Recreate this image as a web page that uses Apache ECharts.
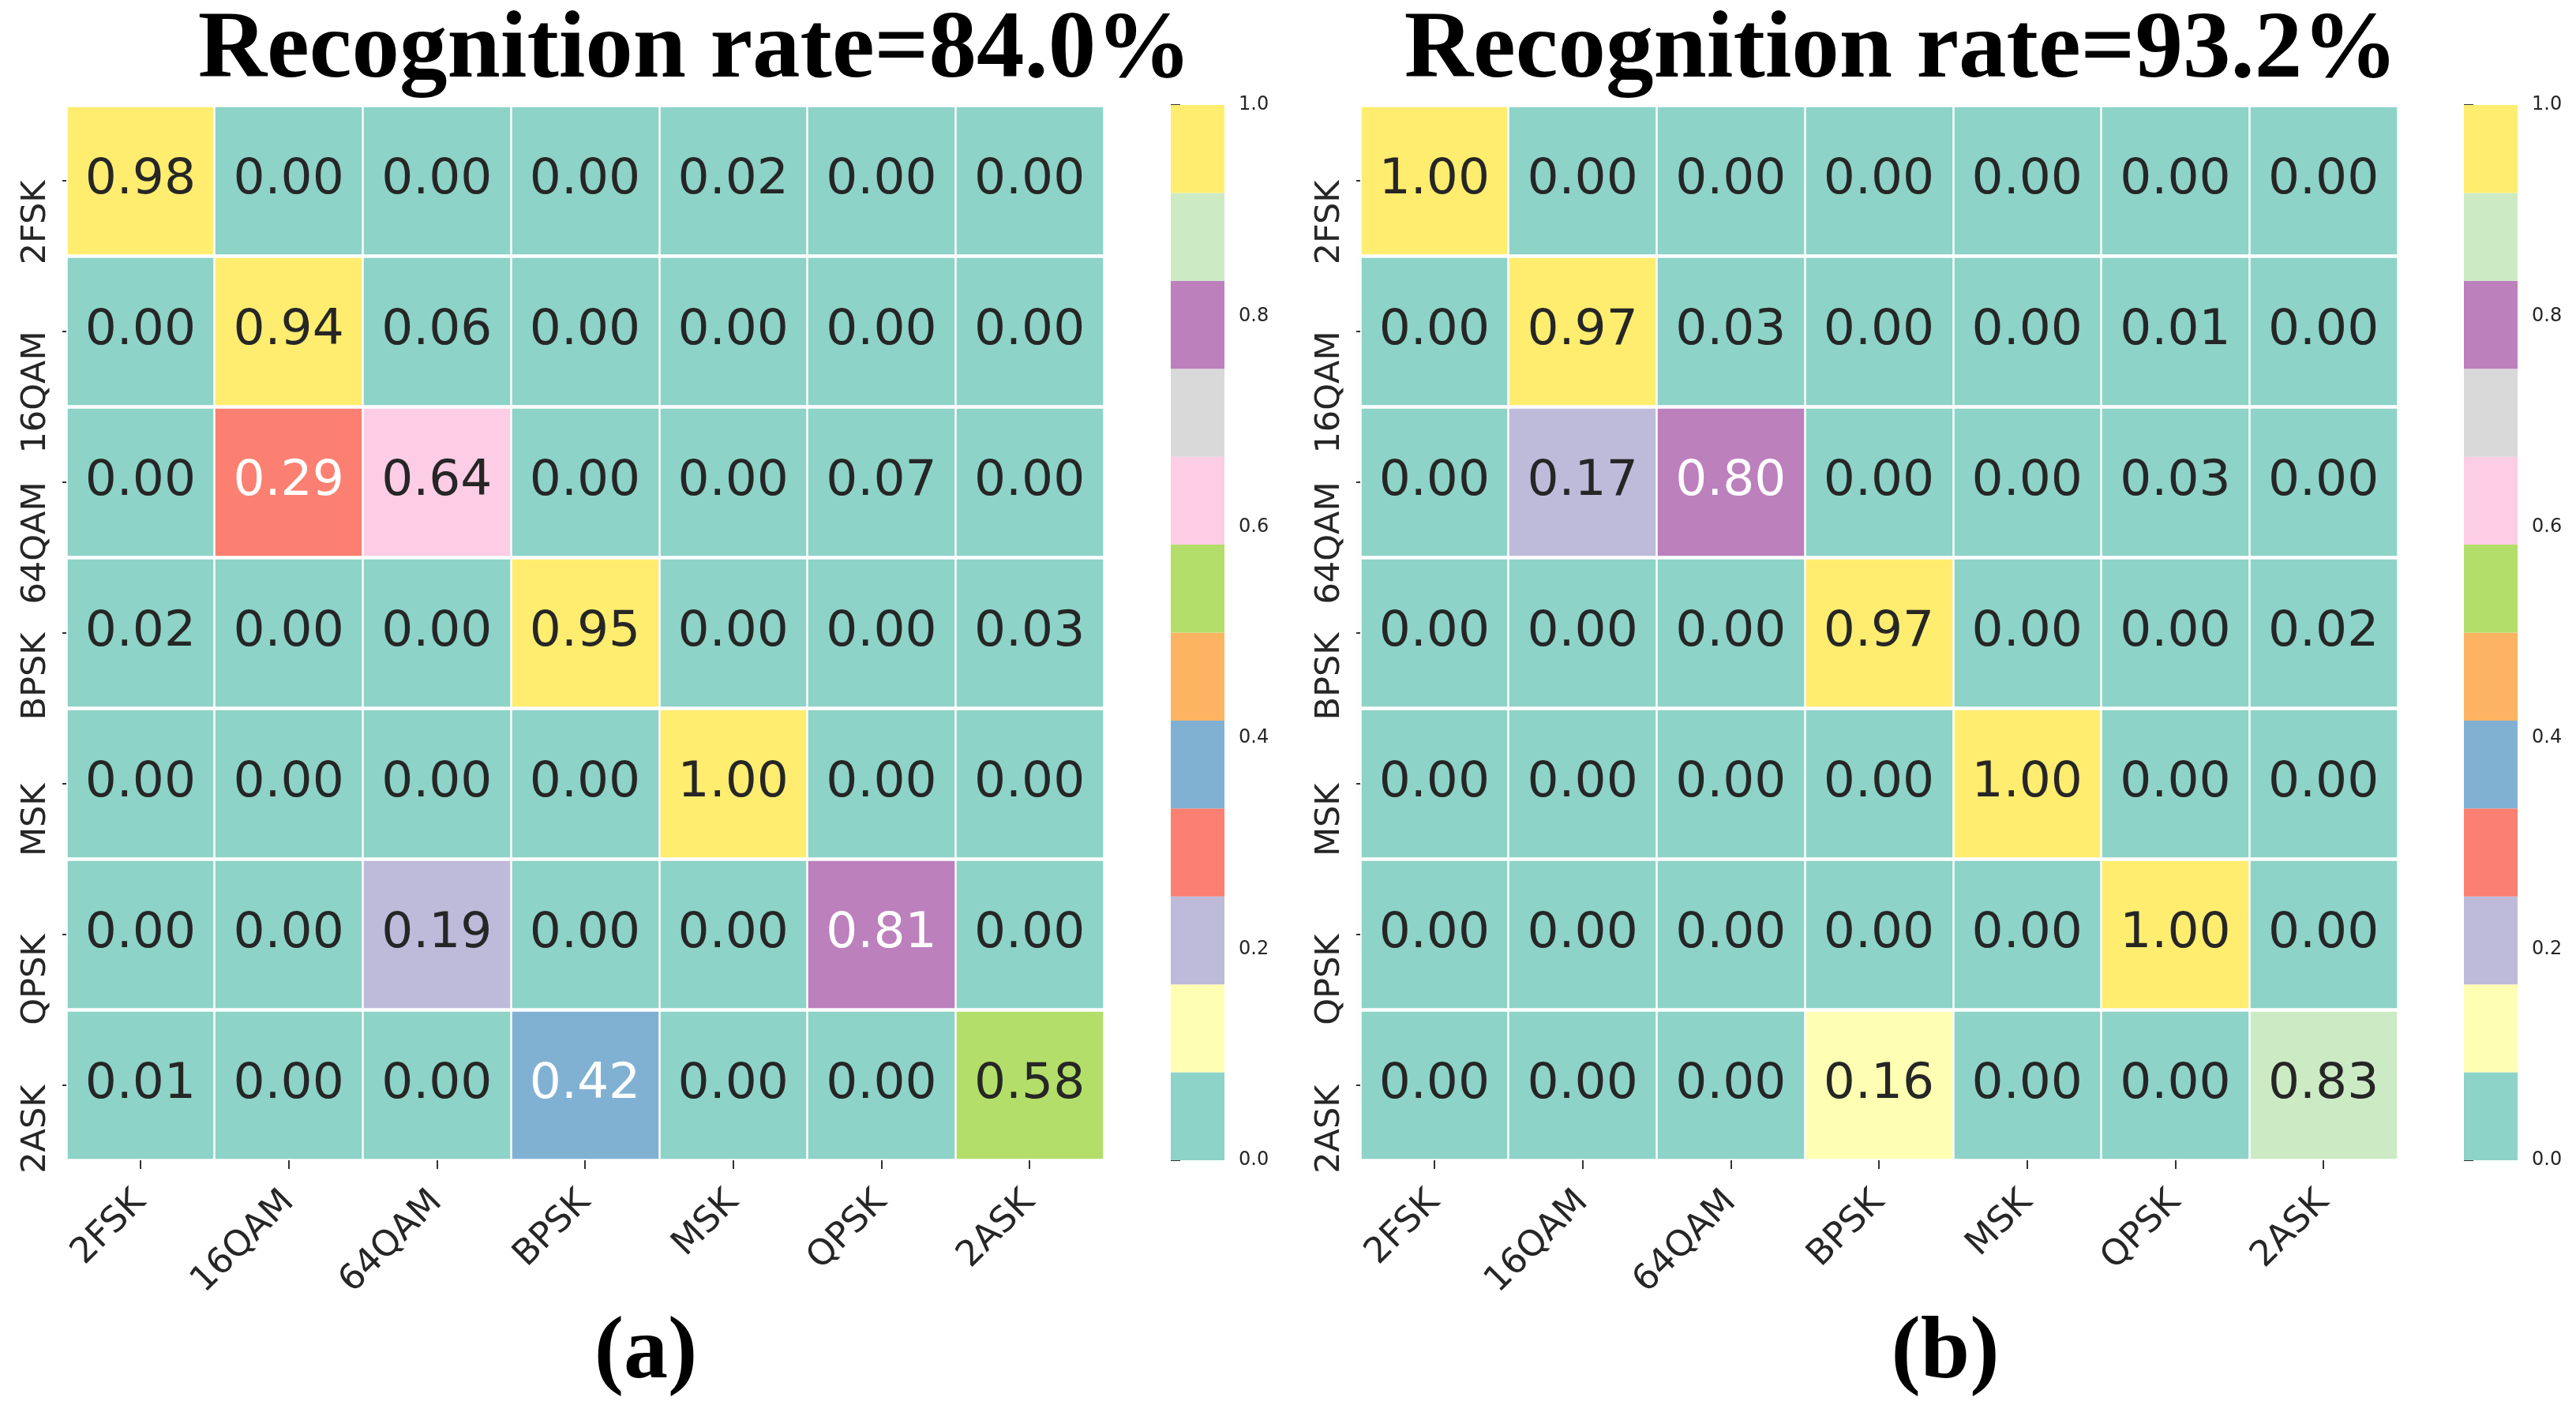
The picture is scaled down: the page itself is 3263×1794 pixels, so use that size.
<!DOCTYPE html>
<html>
<head>
<meta charset="utf-8">
<script src="https://cdn.jsdelivr.net/npm/echarts@6/dist/echarts.min.js"></script>
<style>
html,body{margin:0;padding:0;background:#fff;}
#chart{width:3263px;height:1794px;}
</style>
</head>
<body>
<div id="chart"></div>
<script>
// ---- data ----
const categories = ['2FSK','16QAM','64QAM','BPSK','MSK','QPSK','2ASK'];
const matrixA = [
  [0.98, 0.00, 0.00, 0.00, 0.02, 0.00, 0.00],
  [0.00, 0.94, 0.06, 0.00, 0.00, 0.00, 0.00],
  [0.00, 0.29, 0.64, 0.00, 0.00, 0.07, 0.00],
  [0.02, 0.00, 0.00, 0.95, 0.00, 0.00, 0.03],
  [0.00, 0.00, 0.00, 0.00, 1.00, 0.00, 0.00],
  [0.00, 0.00, 0.19, 0.00, 0.00, 0.81, 0.00],
  [0.01, 0.00, 0.00, 0.416, 0.00, 0.00, 0.58]
];
const matrixB = [
  [1.00, 0.00, 0.00, 0.00, 0.00, 0.00, 0.00],
  [0.00, 0.97, 0.03, 0.00, 0.00, 0.01, 0.00],
  [0.00, 0.17, 0.80, 0.00, 0.00, 0.03, 0.00],
  [0.00, 0.00, 0.00, 0.97, 0.00, 0.00, 0.02],
  [0.00, 0.00, 0.00, 0.00, 1.00, 0.00, 0.00],
  [0.00, 0.00, 0.00, 0.00, 0.00, 1.00, 0.00],
  [0.00, 0.00, 0.00, 0.16, 0.00, 0.00, 0.834]
];
const titleA = 'Recognition rate=84.0%';
const titleB = 'Recognition rate=93.2%';
const panelLabels = ['(a)', '(b)'];
const colorbarTicks = [0.0, 0.2, 0.4, 0.6, 0.8, 1.0];
// Set3 colormap (12 discrete levels over [0,1])
const set3 = ['#8dd3c7','#ffffb3','#bebada','#fb8072','#80b1d3','#fdb462',
              '#b3de69','#fccde5','#d9d9d9','#bc80bd','#ccebc5','#ffed6f'];

// ---- helpers ----
const nLev = set3.length;
function levelColor(v){
  let i = Math.floor(v * nLev);
  if (i >= nLev) i = nLev - 1;
  if (i < 0) i = 0;
  return set3[i];
}
function lum(hex){
  const c = [1,3,5].map(k => parseInt(hex.substr(k,2),16)/255)
    .map(x => x <= 0.03928 ? x/12.92 : Math.pow((x+0.055)/1.055, 2.4));
  return 0.2126*c[0] + 0.7152*c[1] + 0.0722*c[2];
}
function heatData(m){
  const out = [];
  m.forEach((row, r) => row.forEach((v, c) => {
    const col = levelColor(v);
    out.push({ value: [c, r, v], label: { color: lum(col) > 0.409 ? '#262626' : '#ffffff' } });
  }));
  return out;
}
const pieces = set3.map((col, i) => {
  const p = { gte: i / nLev, color: col };
  if (i < nLev - 1) p.lt = (i + 1) / nLev; else p.lte = 1;
  return p;
});
const cbData = set3.map((col, i) => [i / nLev, (i + 1) / nLev, i]);

// ---- layout ----
const G = { top: 133, height: 1337, width: 1314 };
const lefts = [84, 1723];
const cbLefts = [1483, 3121];
const cbWidth = 68;

const grids = [], xAxes = [], yAxes = [], series = [];
[0,1].forEach(p => {
  grids.push({ left: lefts[p], top: G.top, width: G.width, height: G.height, outerBoundsMode: 'none', containLabel: false });
  grids.push({ left: cbLefts[p], top: G.top, width: cbWidth, height: G.height, outerBoundsMode: 'none', containLabel: false });
  const gi = p * 2;
  xAxes.push({
    type: 'category', gridIndex: gi, data: categories, position: 'bottom', z: 5,
    axisLine: { show: false },
    axisTick: { show: true, length: 11, alignWithLabel: true, interval: 0, lineStyle: { color: '#333', width: 2 } },
    axisLabel: { rotate: 45, margin: 46, interval: 0, fontFamily: 'DejaVu Sans', fontSize: 45, color: '#262626' },
    splitLine: { show: true, interval: 0, lineStyle: { color: '#ffffff', width: 2.5 } }
  });
  yAxes.push({
    type: 'category', gridIndex: gi, data: categories, inverse: true, z: 5,
    axisLine: { show: false },
    axisTick: { show: true, length: 5, alignWithLabel: true, interval: 0, lineStyle: { color: '#333', width: 2 } },
    axisLabel: { rotate: 90, align: 'right', verticalAlign: 'middle', margin: 38, interval: 0,
                 fontFamily: 'DejaVu Sans', fontSize: 43, color: '#262626' },
    splitLine: { show: true, interval: 0, lineStyle: { color: '#ffffff', width: 4.5 } }
  });
  // colorbar axes
  xAxes.push({ type: 'value', gridIndex: gi + 1, min: 0, max: 1, show: false });
  yAxes.push({
    type: 'value', gridIndex: gi + 1, min: 0, max: 1, interval: 0.2, position: 'right',
    axisLine: { show: false },
    axisTick: { show: true, length: 12, lineStyle: { color: '#333', width: 2 } },
    axisLabel: { margin: 18, fontFamily: 'DejaVu Sans', fontSize: 24, color: '#262626',
                 formatter: v => colorbarTicks.some(t => Math.abs(t - v) < 1e-9) ? v.toFixed(1) : '' },
    splitLine: { show: false }
  });
  series.push({
    type: 'heatmap', xAxisIndex: gi, yAxisIndex: gi,
    data: heatData(p === 0 ? matrixA : matrixB),
    itemStyle: { borderWidth: 0 },
    label: { show: true, fontFamily: 'DejaVu Sans', fontSize: 63,
             formatter: prm => prm.value[2].toFixed(2) },
    emphasis: { disabled: true }
  });
  series.push({
    type: 'custom', xAxisIndex: gi + 1, yAxisIndex: gi + 1, data: cbData,
    renderItem: (params, api) => {
      const lo = api.value(0), hi = api.value(1);
      const tl = api.coord([0, hi]);
      const br = api.coord([1, lo]);
      return { type: 'rect', shape: { x: tl[0], y: tl[1], width: br[0] - tl[0], height: br[1] - tl[1] },
               style: { fill: set3[api.value(2)] } };
    },
    silent: true
  });
});

const chart = echarts.init(document.getElementById('chart'), null, { renderer: 'canvas' });
chart.setOption({
  backgroundColor: '#ffffff',
  animation: false,
  grid: grids,
  xAxis: xAxes,
  yAxis: yAxes,
  visualMap: { type: 'piecewise', show: false, seriesIndex: [0, 2], dimension: 2, pieces: pieces },
  series: series,
  graphic: [
    { type: 'text', x: 880, y: 66, style: { text: titleA, font: 'bold 121px "Liberation Serif"', fill: '#000', textAlign: 'center', textVerticalAlign: 'middle' } },
    { type: 'text', x: 2408, y: 66, style: { text: titleB, font: 'bold 121px "Liberation Serif"', fill: '#000', textAlign: 'center', textVerticalAlign: 'middle' } },
    { type: 'text', x: 818, y: 1716, style: { text: panelLabels[0], font: 'bold 112px "Liberation Serif"', fill: '#000', textAlign: 'center', textVerticalAlign: 'middle' } },
    { type: 'text', x: 2464, y: 1716, style: { text: panelLabels[1], font: 'bold 112px "Liberation Serif"', fill: '#000', textAlign: 'center', textVerticalAlign: 'middle' } }
  ]
});
</script>
</body>
</html>
